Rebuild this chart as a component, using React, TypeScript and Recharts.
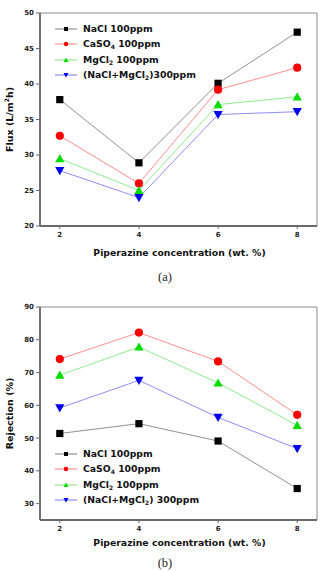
import React from "react";
import { LineChart, Line, XAxis, YAxis, Legend, ReferenceArea, Label } from "recharts";

// piperazine concentration (wt. %)
const concentration = [2, 4, 6, 8];
const xTicks = [2, 4, 6, 8];

// permeate flux (L/m2h)
const fluxNaCl = [37.8, 28.9, 40.1, 47.3];
const fluxCaSO4 = [32.7, 26.0, 39.2, 42.3];
const fluxMgCl2 = [29.5, 25.0, 37.1, 38.2];
const fluxMix = [27.8, 24.0, 35.7, 36.1];
const fluxTicks = [20, 25, 30, 35, 40, 45, 50];

// salt rejection (%)
const rejNaCl = [51.4, 54.4, 49.1, 34.6];
const rejCaSO4 = [74.1, 82.2, 73.4, 57.1];
const rejMgCl2 = [69.2, 77.8, 66.8, 53.9];
const rejMix = [59.2, 67.6, 56.3, 46.8];
const rejTicks = [30, 40, 50, 60, 70, 80, 90];

type Shape = "square" | "circle" | "up" | "down";

const SERIES: { key: string; shape: Shape; fill: string; line: string }[] = [
  { key: "nacl", shape: "square", fill: "#000000", line: "#444444" },
  { key: "caso4", shape: "circle", fill: "#ff0000", line: "#ff4040" },
  { key: "mgcl2", shape: "up", fill: "#00dd00", line: "#40dd40" },
  { key: "mix", shape: "down", fill: "#0000ee", line: "#4040ee" },
];

const FONT = "'DejaVu Sans', Verdana, sans-serif";
const AXIS = "#6a6a6a";

function buildRows(a: number[], b: number[], c: number[], d: number[]) {
  return concentration.map((x, i) => ({ x, nacl: a[i], caso4: b[i], mgcl2: c[i], mix: d[i] }));
}

function Marker({ cx, cy, shape, fill, s = 1 }: { cx?: number; cy?: number; shape: Shape; fill: string; s?: number }) {
  if (cx == null || cy == null) return null;
  if (shape === "square") {
    const h = 3.6 * s;
    return <rect x={cx - h} y={cy - h} width={h * 2} height={h * 2} fill={fill} />;
  }
  if (shape === "circle") return <circle cx={cx} cy={cy} r={4.1 * s} fill={fill} />;
  const w = 4.6 * s;
  if (shape === "up")
    return <polygon points={`${cx},${cy - 4.6 * s} ${cx + w},${cy + 3.6 * s} ${cx - w},${cy + 3.6 * s}`} fill={fill} />;
  return <polygon points={`${cx},${cy + 4.6 * s} ${cx + w},${cy - 3.6 * s} ${cx - w},${cy - 3.6 * s}`} fill={fill} />;
}

const sub = (t: string) => <sub style={{ fontSize: 6, verticalAlign: -2 }}>{t}</sub>;

const legendNamesA = [
  <>NaCl 100ppm</>,
  <>CaSO{sub("4")} 100ppm</>,
  <>MgCl{sub("2")} 100ppm</>,
  <>(NaCl+MgCl{sub("2")})300ppm</>,
];
const legendNamesB = [
  <>NaCl 100ppm</>,
  <>CaSO{sub("4")} 100ppm</>,
  <>MgCl{sub("2")} 100ppm</>,
  <>(NaCl+MgCl{sub("2")}) 300ppm</>,
];

function LegendBox({ names }: { names: React.ReactNode[] }) {
  return (
    <div style={{ fontFamily: FONT, fontWeight: "bold", fontSize: 9.3, color: "#111" }}>
      {SERIES.map((s, i) => (
        <div key={s.key} style={{ display: "flex", alignItems: "center", height: 15.5, whiteSpace: "nowrap" }}>
          <svg width={26} height={10} style={{ marginRight: 2 }}>
            <line x1={0} y1={5} x2={22} y2={5} stroke={s.line} strokeWidth={0.7} />
            <Marker cx={11} cy={5} shape={s.shape} fill={s.fill} s={0.55} />
          </svg>
          <span>{names[i]}</span>
        </div>
      ))}
    </div>
  );
}

function yTitle(parts: React.ReactNode) {
  return ({ viewBox }: any) => {
    const cx = viewBox.x + 9;
    const cy = viewBox.y + viewBox.height / 2;
    return (
      <text x={cx} y={cy} transform={`rotate(-90 ${cx} ${cy})`} textAnchor="middle" dominantBaseline="central"
        fontFamily={FONT} fontWeight="bold" fontSize={9.5} fill="#111">
        {parts}
      </text>
    );
  };
}

function xTitle(dy: number) {
  return ({ viewBox }: any) => (
    <text x={viewBox.x + viewBox.width / 2 + 1} y={viewBox.y + dy} textAnchor="middle"
      fontFamily={FONT} fontWeight="bold" fontSize={9.3} fill="#111">
      Piperazine concentration (wt. %)
    </text>
  );
}

interface PanelProps {
  rows: ReturnType<typeof buildRows>;
  yDomain: [number, number];
  yTicks: number[];
  yLabel: React.ReactNode;
  names: React.ReactNode[];
  height: number;
  xAxisHeight: number;
  xLabelDy: number;
  legendTop: number;
}

function Panel({ rows, yDomain, yTicks, yLabel, names, height, xAxisHeight, xLabelDy, legendTop }: PanelProps) {
  const tick = { fontFamily: FONT, fontWeight: "bold", fontSize: 7, fill: "#222" };
  return (
    <LineChart width={324} height={height} data={rows} margin={{ top: 13, right: 7, bottom: 0, left: 0 }}>
      <ReferenceArea x1={1.5} x2={8.5} y1={yDomain[0]} y2={yDomain[1]} fill="none" stroke="#8a8a8a" strokeWidth={1} />
      <XAxis dataKey="x" type="number" domain={[1.5, 8.5]} ticks={xTicks} height={xAxisHeight}
        axisLine={{ stroke: AXIS, strokeWidth: 1.8 }} tickLine={{ stroke: AXIS }} tickSize={3} tickMargin={3} tick={tick}>
        <Label content={xTitle(xLabelDy)} />
      </XAxis>
      <YAxis type="number" domain={yDomain} ticks={yTicks} width={40} interval={0}
        axisLine={{ stroke: AXIS, strokeWidth: 1.8 }} tickLine={{ stroke: AXIS }} tickSize={4} tickMargin={2} tick={tick}>
        <Label content={yTitle(yLabel)} />
      </YAxis>
      {SERIES.map((s) => (
        <Line key={s.key} dataKey={s.key} stroke={s.line} strokeWidth={0.6} isAnimationActive={false}
          dot={(p: any) => <Marker key={`${s.key}-${p.index}`} cx={p.cx} cy={p.cy} shape={s.shape} fill={s.fill} />}
          activeDot={false} />
      ))}
      <Legend layout="vertical" align="center" verticalAlign="middle"
        wrapperStyle={{ left: 55, top: legendTop, width: "auto", height: "auto" }}
        content={() => <LegendBox names={names} />} />
    </LineChart>
  );
}

const caption: React.CSSProperties = {
  position: "absolute", left: 0, width: 330, textAlign: "center",
  fontFamily: "'Liberation Serif', 'Times New Roman', serif", fontSize: 12.5, lineHeight: "14px", color: "#222",
};

export default function App() {
  const fluxRows = buildRows(fluxNaCl, fluxCaSO4, fluxMgCl2, fluxMix);
  const rejRows = buildRows(rejNaCl, rejCaSO4, rejMgCl2, rejMix);
  return (
    <div style={{ position: "absolute", top: 0, left: 0, width: 324, height: 571, background: "#fff", overflow: "hidden" }}>
      <div style={{ position: "absolute", top: 0, left: 0 }}>
        <Panel rows={fluxRows} yDomain={[20, 50]} yTicks={fluxTicks}
          yLabel={<>Flux (L/m<tspan dy={-3} fontSize={6}>2</tspan><tspan dy={3}>h)</tspan></>}
          names={legendNamesA} height={265} xAxisHeight={39} xLabelDy={30} legendTop={21} />
      </div>
      <div style={{ ...caption, top: 270 }}>(a)</div>
      <div style={{ position: "absolute", top: 294, left: 0 }}>
        <Panel rows={rejRows} yDomain={[25, 90]} yTicks={rejTicks} yLabel={<>Rejection (%)</>}
          names={legendNamesB} height={262} xAxisHeight={36} xLabelDy={26} legendTop={152} />
      </div>
      <div style={{ ...caption, top: 556 }}>(b)</div>
    </div>
  );
}
